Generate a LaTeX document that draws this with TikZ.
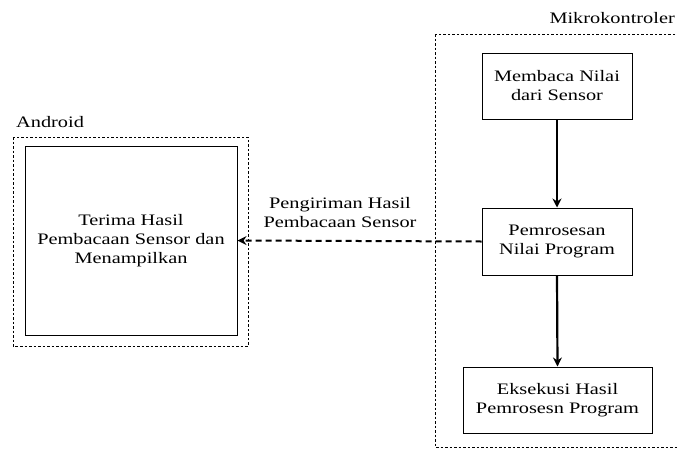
\documentclass[tikz,border=0pt]{standalone}
\usepackage{fontspec}
\setmainfont[FakeStretch=1.27]{Liberation Serif}
\usetikzlibrary{arrows.meta}
\begin{document}
\begin{tikzpicture}[x=1pt,y=-1pt,
  every node/.style={font=\fontsize{16}{19}\selectfont},
  procbox/.style={draw=black, line width=1pt, align=center, inner sep=0pt},
  group/.style={draw=black, line width=0.8pt, dash pattern=on 2.5pt off 2pt},
  flow/.style={draw=black, line width=2.2pt, -{Stealth[length=9pt,width=9pt]}},
  send/.style={draw=black, line width=2pt, dash pattern=on 6pt off 4pt, -{Stealth[length=9pt,width=9pt]}}]
\useasboundingbox (0,0) rectangle (677,450);
\clip (0,0) rectangle (677,450);
% containers
\draw[group] (13,137) rectangle (248,346);
\draw[group] (435,34) rectangle (700,447);
\node[anchor=west, inner sep=0pt] (lblandroid) at (16,122) {Android};
\node[anchor=east, inner sep=0pt] (lblmikro) at (675,18) {Mikrokontroler};
% boxes
\node[procbox, minimum width=212pt, minimum height=189pt] (terima) at (131,240.5) {Terima Hasil\\Pembacaan Sensor dan\\Menampilkan};
\node[procbox, minimum width=150pt, minimum height=66pt] (baca) at (557,86) {Membaca Nilai\\dari Sensor};
\node[procbox, minimum width=150pt, minimum height=67pt] (proses) at (557,241.5) {Pemrosesan\\Nilai Program};
\node[procbox, minimum width=189pt, minimum height=66pt] (eksek) at (557.5,400) {Eksekusi Hasil\\Pemrosesn Program};
% connectors
\draw[flow] (baca.south) -- (proses.north);
\draw[flow] (proses.south) -- (eksek.north);
\draw[send] (proses.west) -- (terima.east);
\node[align=center, inner sep=0pt] (lblsend) at (340,213) {Pengiriman Hasil\\Pembacaan Sensor};
\end{tikzpicture}
\end{document}
